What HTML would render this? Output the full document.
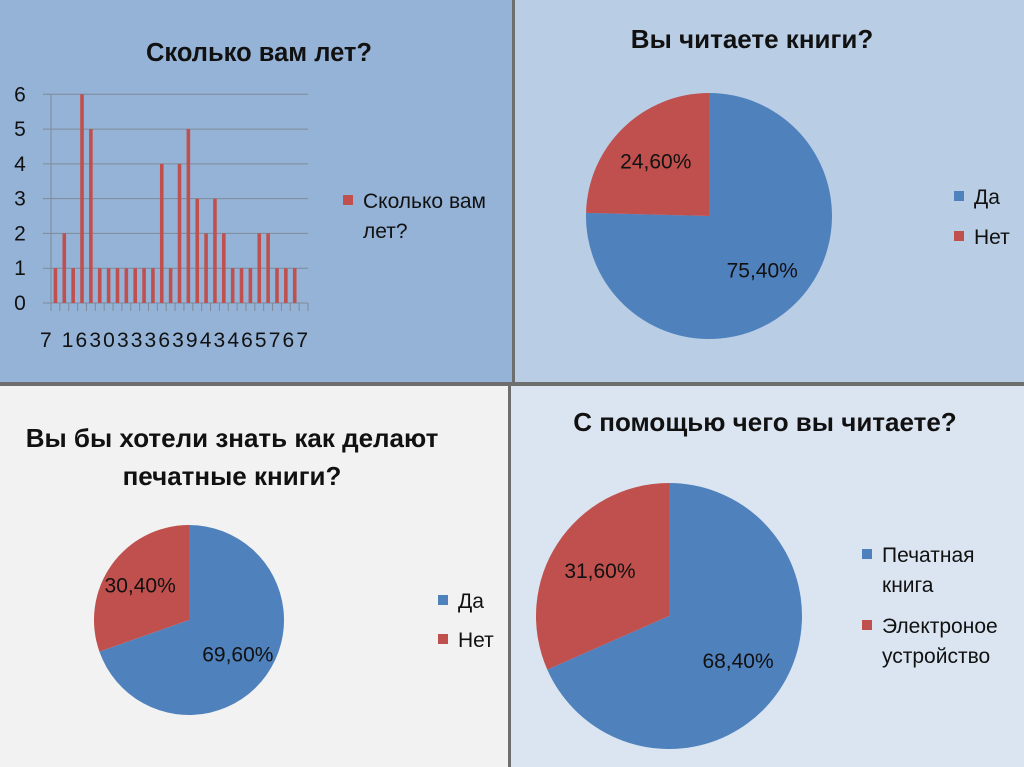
<!DOCTYPE html>
<html><head><meta charset="utf-8"><style>
body{margin:0;width:1024px;height:767px;overflow:hidden;background:#777;font-family:"Liberation Sans","DejaVu Sans",sans-serif;}
svg{display:block}
</style></head><body>
<svg width="1024" height="767">
<rect x="0" y="0" width="1024" height="767" fill="#6e6e6e"/>
<rect x="0" y="0" width="512" height="382" fill="#95b3d7"/>
<rect x="515" y="0" width="509" height="382" fill="#b9cde5"/>
<rect x="0" y="386" width="508" height="381" fill="#f2f2f2"/>
<rect x="511" y="386" width="513" height="381" fill="#dbe5f1"/>

<text x="259" y="61" font-size="25.5" font-weight="bold" text-anchor="middle" fill="#111">Сколько вам лет?</text>
<g id="bars"></g>
<rect x="343" y="195" width="10" height="10" fill="#c0504d"/>
<text x="363" y="208" font-size="21" fill="#111">Сколько вам</text>
<text x="363" y="238" font-size="21" fill="#111">лет?</text>

<text x="752" y="48" font-size="26" font-weight="bold" text-anchor="middle" fill="#111">Вы читаете книги?</text>
<g id="pie1"></g>
<rect x="954" y="191" width="10" height="10" fill="#4f81bd"/>
<text x="974" y="204" font-size="21" fill="#111">Да</text>
<rect x="954" y="231" width="10" height="10" fill="#c0504d"/>
<text x="974" y="244" font-size="21" fill="#111">Нет</text>

<text x="232" y="447" font-size="26" font-weight="bold" text-anchor="middle" fill="#111">Вы бы хотели знать как делают</text>
<text x="232" y="485" font-size="26" font-weight="bold" text-anchor="middle" fill="#111">печатные книги?</text>
<g id="pie2"></g>
<rect x="438" y="595" width="10" height="10" fill="#4f81bd"/>
<text x="458" y="608" font-size="21" fill="#111">Да</text>
<rect x="438" y="634" width="10" height="10" fill="#c0504d"/>
<text x="458" y="647" font-size="21" fill="#111">Нет</text>

<text x="765" y="431" font-size="26" font-weight="bold" text-anchor="middle" fill="#111">С помощью чего вы читаете?</text>
<g id="pie3"></g>
<rect x="862" y="549" width="10" height="10" fill="#4f81bd"/>
<text x="882" y="562" font-size="21" fill="#111">Печатная</text>
<text x="882" y="592" font-size="21" fill="#111">книга</text>
<rect x="862" y="620" width="10" height="10" fill="#c0504d"/>
<text x="882" y="633" font-size="21" fill="#111">Электроное</text>
<text x="882" y="663" font-size="21" fill="#111">устройство</text>
</svg>
<script>
const ageValues=[1,2,1,6,5,1,1,1,1,1,1,1,4,1,4,5,3,2,3,2,1,1,1,2,2,1,1,1,0];
const yTicks=[0,1,2,3,4,5,6];
const xLabelText="7 163033363943465767";
const pieReadBooks=[75.4,24.6];
const piePrinting=[69.6,30.4];
const pieDevice=[68.4,31.6];
const NS="http://www.w3.org/2000/svg";
function mk(tag,attrs,parent){const e=document.createElementNS(NS,tag);for(const k in attrs)e.setAttribute(k,attrs[k]);parent.appendChild(e);return e;}
const g=document.getElementById('bars');
const x0=51,x1=308,y0=303,yTop=94.3,yMax=6;
const ys=v=>y0-(v/yMax)*(y0-yTop);
const step=(x1-x0)/ageValues.length;
yTicks.forEach(t=>{
  if(t>0){const l=mk('line',{x1:x0-8,x2:x1,y1:ys(t),y2:ys(t),stroke:'#7f8a99','stroke-width':1},g);
  
  }
  const tx=mk('text',{x:20,y:ys(t)+7,'font-size':21,'text-anchor':'middle',fill:'#111'},g);tx.textContent=t;
  
  
});
mk('line',{x1:x0,x2:x0,y1:yTop,y2:y0,stroke:'#7f8a99'},g);
mk('line',{x1:x0-8,x2:x1,y1:y0,y2:y0,stroke:'#7f8a99'},g);
for(let i=0;i<=ageValues.length;i++){const t=mk('line',{x1:x0+i*step,x2:x0+i*step,y1:y0,y2:y0+8,stroke:'#7f8a99'},g);
  
  }
ageValues.forEach((v,i)=>{
  const cx=x0+(i+0.5)*step;
  const r=mk('rect',{x:cx-1.8,y:ys(v),width:3.6,height:y0-ys(v),fill:'#c0504d'},g);
  
  
});
const xl=mk('text',{x:40,y:347,'font-size':21,textLength:268,fill:'#111'},g);
xl.textContent=xLabelText;



function pie(id,vals,cx,cy,r,labelPos){
  const pg=document.getElementById(id);
  const colors=['#4f81bd','#c0504d'];
  const tot=vals.reduce((a,b)=>a+b,0);
  let a=0;
  vals.forEach((v,i)=>{
    const a1=a+v/tot*2*Math.PI;
    const p=(ang)=>[cx+r*Math.sin(ang),cy-r*Math.cos(ang)];
    const [sx,sy]=p(a),[ex,ey]=p(a1);
    const large=(a1-a)>Math.PI?1:0;
    const s=mk('path',{d:`M${cx},${cy}L${sx},${sy}A${r},${r} 0 ${large} 1 ${ex},${ey}Z`,fill:colors[i]},pg);
    
    
    const mid=(a+a1)/2;
    const lx=cx+labelPos*r*Math.sin(mid),ly=cy-labelPos*r*Math.cos(mid);
    const t=mk('text',{x:lx,y:ly+7,'font-size':21,'text-anchor':'middle',fill:'#111'},pg);
    t.textContent=v.toFixed(2).replace('.',',')+'%';
    
    
    a=a1;
  });
}
pie('pie1',pieReadBooks,709,216,123,0.62);
pie('pie2',piePrinting,189,620,95,0.63);
pie('pie3',pieDevice,669,616,133,0.62);
</script>
</body></html>
